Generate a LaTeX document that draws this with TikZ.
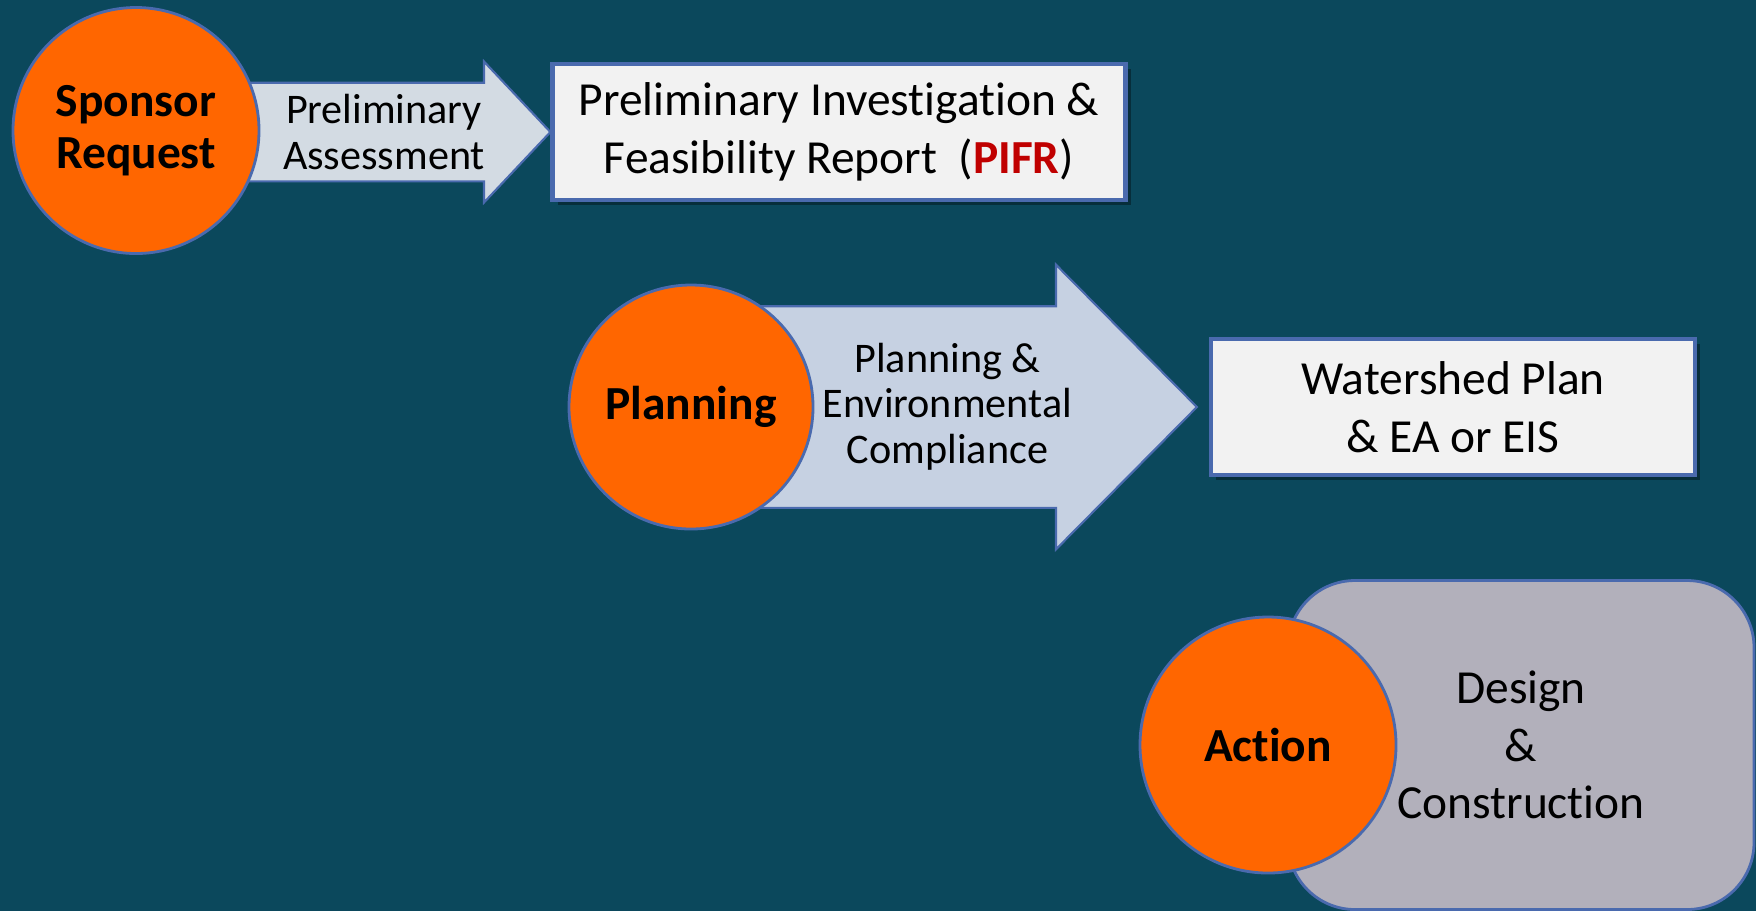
\documentclass[tikz,border=0pt]{standalone}
\usepackage{fontspec}
\setmainfont{Carlito}[Ligatures={NoCommon}]
\usetikzlibrary{shadows,calc}
\definecolor{bgteal}{RGB}{11,72,92}
\definecolor{stageorange}{RGB}{255,102,0}
\definecolor{edgeblue}{RGB}{74,106,174}
\definecolor{arrowpale}{RGB}{211,219,227}
\definecolor{arrowblue}{RGB}{198,209,226}
\definecolor{boxwhite}{RGB}{242,242,242}
\definecolor{roundgray}{RGB}{178,176,187}
\definecolor{pifrred}{RGB}{192,0,0}

\begin{document}
\begin{tikzpicture}[
    stage/.style={circle,fill=stageorange,draw=edgeblue,line width=0.8pt,
      minimum size=2.46cm,inner sep=0pt,align=center,
      font=\bfseries\fontsize{13.5}{14.7}\selectfont},
    result/.style={rectangle,fill=boxwhite,draw=edgeblue,line width=1.2pt,
      inner sep=0pt,align=center,font=\fontsize{13.5}{16.5}\selectfont,
      drop shadow={shadow xshift=0.05cm,shadow yshift=-0.05cm,opacity=0.35,fill=black}},
    blockarrow/.style={draw=edgeblue,line width=0.6pt},
    arrowtext/.style={align=center,font=\fontsize{12}{13}\selectfont}
  ]
  % background and page size
  \fill[bgteal] (0,0) rectangle (17.56,-9.11);
  \useasboundingbox (0,0) rectangle (17.56,-9.11);

  % result boxes
  \node[result,minimum width=5.73cm,minimum height=1.355cm] (pifr) at (8.39,-1.32)
    {Preliminary Investigation \&\\Feasibility Report\ \ (\textcolor{pifrred}{\textbf{PIFR}})};
  \node[result,minimum width=4.84cm,minimum height=1.355cm] (plan) at (14.53,-4.07)
    {Watershed Plan\\\& EA or EIS};
  \node[rectangle,rounded corners=0.67cm,fill=roundgray,draw=edgeblue,line width=0.8pt,
    minimum width=4.66cm,minimum height=3.29cm,align=center,
    font=\fontsize{13.5}{16.3}\selectfont] (build) at (15.21,-7.45)
    {Design\\\&\\Construction};

  % block arrows
  \draw[blockarrow,fill=arrowpale] (2.0,-0.827) -- (4.84,-0.827) -- (4.84,-0.615)
    -- (pifr.west) -- (4.84,-2.025) -- (4.84,-1.813) -- (2.0,-1.813) -- cycle;
  \draw[blockarrow,fill=arrowblue] (7.2,-3.062) -- (10.56,-3.062) -- (10.56,-2.647)
    -- ($(plan.west)-(0.12,0)$) -- (10.56,-5.493) -- (10.56,-5.078) -- (7.2,-5.078) -- cycle;

  % stages
  \node[stage] (sponsor) at (1.36,-1.305) {Sponsor\\Request};
  \node[stage,minimum size=2.44cm] (planning) at (6.91,-4.07) {Planning};
  \node[stage,minimum size=2.56cm] (action) at (12.68,-7.45) {Action};

  % arrow labels
  \node[arrowtext] (assess) at (3.84,-1.32) {Preliminary\\Assessment};
  \node[arrowtext] (comply) at (9.475,-4.066) {Planning \&\\Environmental\\Compliance};
\end{tikzpicture}
\end{document}
